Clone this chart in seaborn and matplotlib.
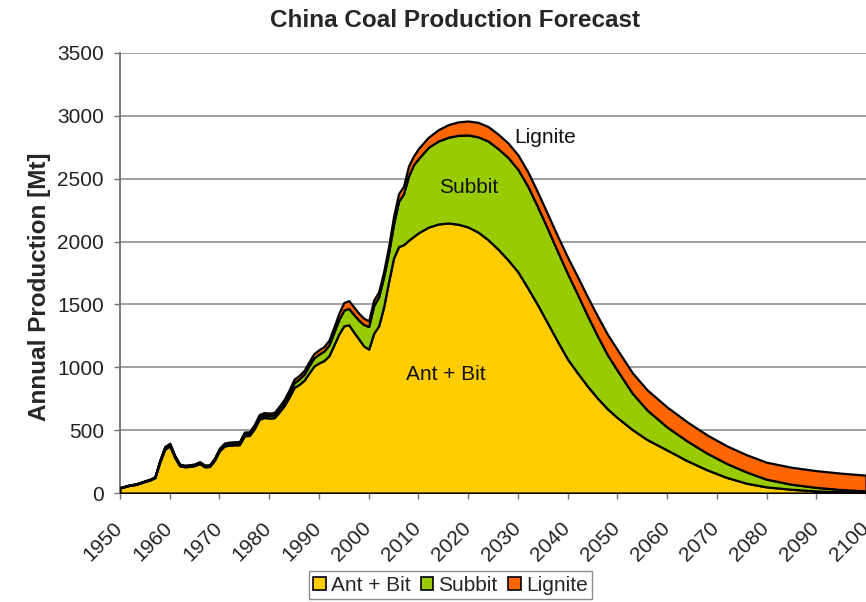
import numpy as np
import pandas as pd
import matplotlib
matplotlib.use("Agg")
import matplotlib.pyplot as plt
import matplotlib.transforms as mtransforms
import seaborn as sns
from matplotlib.patches import Patch

years = list(range(1950, 2011)) + list(range(2012, 2051, 2)) + [
    2053, 2056, 2060, 2064, 2068, 2072, 2076, 2080, 2085, 2090, 2095, 2100]

ant_bit = [41, 51, 62, 67, 78, 92, 103, 122, 247, 349,
           374, 283, 216, 209, 212, 218, 235, 209, 211, 261,
           337, 375, 380, 383, 385, 456, 458, 512, 587, 601,
           597, 599, 645, 695, 764, 839, 864, 897, 955, 1011,
           1035, 1054, 1092, 1178, 1265, 1330, 1338, 1280, 1225, 1170,
           1145, 1270, 1330, 1480, 1680, 1870, 1960, 1975, 2010, 2040,
           2070,
           2115, 2140, 2148, 2138, 2116, 2075, 2015, 1940, 1855, 1760,
           1630, 1495, 1350, 1205, 1065, 955, 850, 755, 670, 600,
           505, 425, 342, 258, 185, 124, 78, 49, 30, 17, 10, 5]

subbit = [2, 2, 2, 3, 3, 3, 4, 4, 8, 11,
          12, 9, 7, 7, 7, 7, 8, 7, 7, 9,
          11, 12, 13, 13, 13, 15, 15, 17, 20, 20,
          20, 22, 25, 28, 32, 38, 42, 48, 58, 65,
          70, 75, 85, 100, 115, 125, 130, 140, 150, 170,
          180, 220, 230, 240, 230, 270, 360, 405, 510, 570,
          590,
          635, 660, 682, 707, 732, 758, 785, 800, 815, 815,
          810, 780, 750, 715, 680, 625, 560, 495, 430, 375,
          290, 235, 183, 157, 133, 111, 89, 61, 40, 28, 18, 12]

lignite = [2, 2, 2, 2, 3, 3, 3, 4, 7, 10,
           11, 8, 7, 6, 6, 7, 7, 7, 7, 8,
           10, 11, 12, 12, 12, 14, 14, 16, 18, 19,
           19, 19, 20, 22, 24, 28, 29, 30, 32, 34,
           35, 36, 38, 42, 50, 60, 62, 60, 55, 50,
           45, 45, 40, 40, 50, 60, 60, 60, 80, 70,
           80,
           80, 90, 100, 107, 111, 115, 115, 115, 115, 115,
           115, 115, 117, 122, 130, 140, 150, 158, 163, 165,
           162, 160, 159, 152, 145, 140, 137, 135, 135, 133, 130, 125]

series_names = ["Ant + Bit", "Subbit", "Lignite"]
colors = ["#FFCC00", "#99CC00", "#FF6600"]

df = pd.DataFrame({"year": years, "Ant + Bit": ant_bit,
                   "Subbit": subbit, "Lignite": lignite})

sns.set_theme(style="white")
plt.rcParams["font.family"] = ["Liberation Sans", "DejaVu Sans"]

fig = plt.figure(figsize=(8.66, 6.02), dpi=100)
ax = fig.add_axes([0.1386, 0.181, 0.8614, 0.731])

ax.stackplot(df["year"], df["Ant + Bit"], df["Subbit"], df["Lignite"],
             colors=colors, edgecolor="black", linewidth=1.6, zorder=3)

ax.set_xlim(1950, 2100)
ax.set_ylim(0, 3500)
ax.set_xticks(range(1950, 2101, 10))
ax.set_yticks(range(0, 3501, 500))
ax.yaxis.grid(True, color="#a0a0a0", linewidth=1.4, zorder=0)
ax.xaxis.grid(False)

for side in ["top", "right"]:
    ax.spines[side].set_visible(False)
for side in ["left", "bottom"]:
    ax.spines[side].set_color("#707070")
    ax.spines[side].set_linewidth(1.3)

ax.tick_params(axis="both", which="major", direction="out", length=4.5,
               width=1.0, color="#707070", labelsize=15, labelcolor="#222222",
               bottom=True, left=True)
ax.tick_params(axis="y", pad=7)
ax.tick_params(axis="x", pad=14)

shift = mtransforms.ScaledTranslation(-7 / 100, 0, fig.dpi_scale_trans)
for lab in ax.get_xticklabels():
    lab.set_rotation(45)
    lab.set_ha("right")
    lab.set_rotation_mode("anchor")
    lab.set_transform(lab.get_transform() + shift)

ax.set_ylabel("Annual Production [Mt]", fontsize=17.5, fontweight="bold")
ax.yaxis.set_label_coords(-0.092, 0.468)
fig.suptitle("China Coal Production Forecast", fontsize=17.5, fontweight="bold",
             y=0.985, x=0.525)

ax.text(2035.5, 2830, "Lignite", fontsize=15, ha="center", va="center",
        color="#111111", zorder=5)
ax.text(2020.2, 2431, "Subbit", fontsize=15, ha="center", va="center",
        color="#111111", zorder=5)
ax.text(2015.5, 939, "Ant + Bit", fontsize=15, ha="center", va="center",
        color="#111111", zorder=5)

handles = [Patch(facecolor=c, edgecolor="black", linewidth=1.2, label=n)
           for n, c in zip(series_names, colors)]
leg = fig.legend(handles=handles, loc="center", bbox_to_anchor=(0.52, 0.028),
                 ncol=3, frameon=True, fancybox=False, fontsize=15,
                 handlelength=0.6, handleheight=0.6, handletextpad=0.25,
                 columnspacing=0.5, borderpad=0.2, borderaxespad=0)
leg.get_frame().set_edgecolor("#707070")
leg.get_frame().set_linewidth(1.0)

fig.savefig("out.png", dpi=100)
